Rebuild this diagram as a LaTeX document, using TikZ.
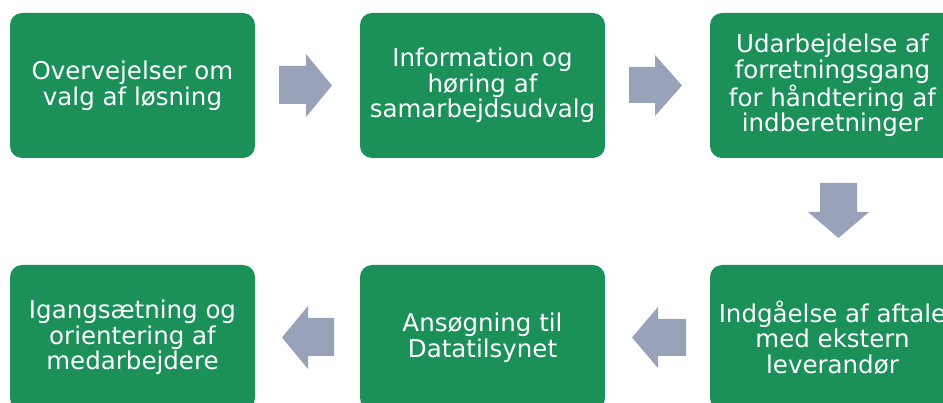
\documentclass[tikz,border=0pt]{standalone}
\usepackage{fontspec}
\setmainfont{DejaVu Sans}
\definecolor{boxgreen}{RGB}{27,145,89}
\definecolor{arrowgrey}{RGB}{152,162,184}
\begin{document}
\begin{tikzpicture}[x=1pt,y=-1pt,
  stepbox/.style={rectangle, rounded corners=12pt, fill=boxgreen, draw=none,
    minimum width=245pt, minimum height=145pt, inner sep=0pt,
    text=white, align=center, font=\fontsize{24.5}{25.5}\selectfont},
  blockarrow/.style={fill=arrowgrey, draw=none}]
\useasboundingbox (0,0) rectangle (943,403);
\clip (0,0) rectangle (943,403);
\node[stepbox] (b1) at (132.5,85.5) {Overvejelser om\\valg af løsning};
\node[stepbox] (b2) at (482.5,85.5) {Information og\\høring af\\samarbejdsudvalg};
\node[stepbox] (b3) at (832.5,85.5) {Udarbejdelse af\\forretningsgang\\for håndtering af\\indberetninger};
\node[stepbox] (b4) at (832.5,337.5) {Indgåelse af aftale\\med ekstern\\leverandør};
\node[stepbox] (b5) at (482.5,337.5) {Ansøgning til\\Datatilsynet};
\node[stepbox] (b6) at (132.5,337.5) {Igangsætning og\\orientering af\\medarbejdere};
% right arrows
\fill[blockarrow] (279,66) -- (306,66) -- (306,54) -- (332,85.5) -- (306,117) -- (306,104) -- (279,104) -- cycle;
\fill[blockarrow] (629,67) -- (655,67) -- (655,55) -- (682,85.5) -- (655,116) -- (655,103) -- (629,103) -- cycle;
% down arrow
\fill[blockarrow] (820,183) -- (857,183) -- (857,212) -- (869,212) -- (838.5,238) -- (808,212) -- (820,212) -- cycle;
% left arrows
\fill[blockarrow] (686,319) -- (658,319) -- (658,307) -- (632,337.5) -- (658,368) -- (658,356) -- (686,356) -- cycle;
\fill[blockarrow] (334,318) -- (308,318) -- (308,306) -- (282,337.5) -- (308,369) -- (308,356) -- (334,356) -- cycle;
\end{tikzpicture}
\end{document}
